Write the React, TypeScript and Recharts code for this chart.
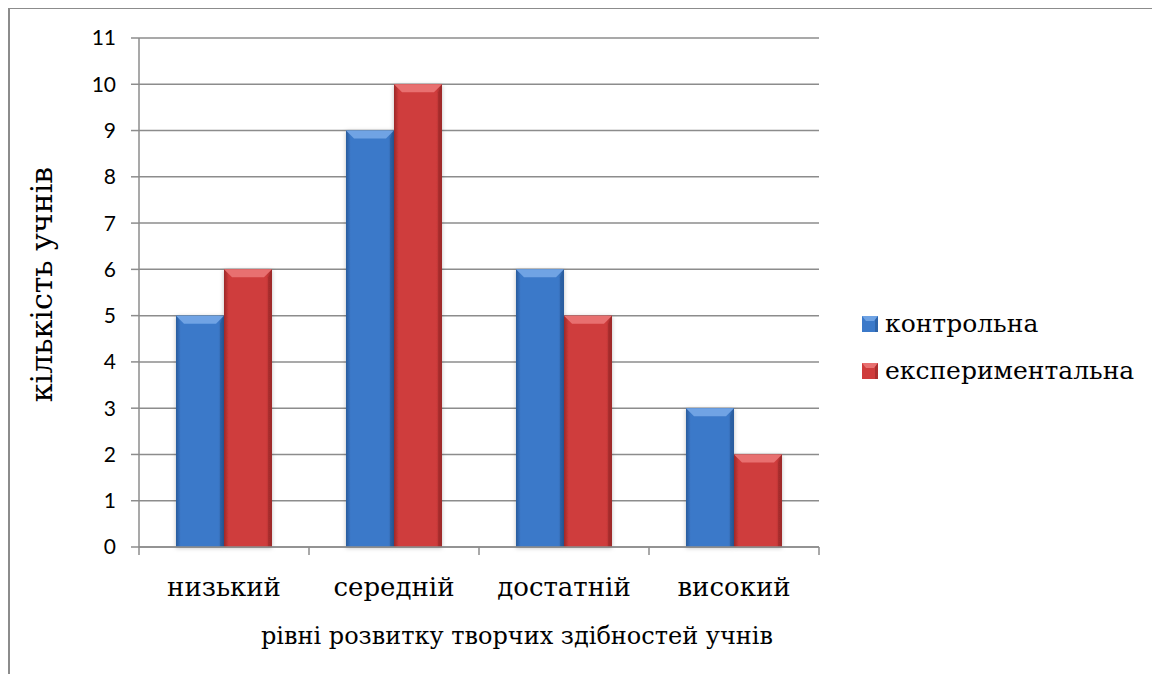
import { BarChart, Bar, XAxis, YAxis, CartesianGrid, Legend } from 'recharts';

const categories = ['низький', 'середній', 'достатній', 'високий'];
const controlValues = [5, 9, 6, 3];
const experimentalValues = [6, 10, 5, 2];
const yTicks = [0, 1, 2, 3, 4, 5, 6, 7, 8, 9, 10, 11];

const seriesNames = ['контрольна', 'експериментальна'];
const xTitle = 'рівні розвитку творчих здібностей учнів';
const yTitle = 'кількість учнів';

const chartData = categories.map((level, i) => ({
  level,
  control: controlValues[i],
  experimental: experimentalValues[i],
}));

const palette = {
  control: { base: '#3b79c9', light: '#6fa3e4', dark: '#2a5b9c' },
  experimental: { base: '#cf3c3c', light: '#e87070', dark: '#9c2929' },
};

const serif = 'DejaVu Serif';

function BevelBar(props: any) {
  const { x, y, width, height, colors, id } = props;
  if (!height || height <= 0) return null;
  const b = Math.min(8, height / 2);
  return (
    <g filter="url(#barShadow)">
      <rect x={x} y={y} width={width} height={height} fill={`url(#grad-${id})`} />
      <polygon
        points={`${x},${y} ${x + width},${y} ${x + width - b},${y + b} ${x + b},${y + b}`}
        fill={colors.light}
      />
      <polygon
        points={`${x + width},${y} ${x + width - b * 0.5},${y + b} ${x + width - b * 0.5},${y + height} ${x + width},${y + height}`}
        fill={colors.dark}
        opacity={0.6}
      />
    </g>
  );
}

function CategoryTick(props: any) {
  const { x, y, payload, width, visibleTicksCount } = props;
  const band = width / visibleTicksCount;
  const half = band / 2;
  return (
    <g>
      <line x1={x - half} y1={y} x2={x - half} y2={y + 8} stroke="#8c8c8c" strokeWidth={1.5} />
      {payload.index === visibleTicksCount - 1 && (
        <line x1={x + half} y1={y} x2={x + half} y2={y + 8} stroke="#8c8c8c" strokeWidth={1.5} />
      )}
      <text x={x} y={y + 49} textAnchor="middle" style={{ fontFamily: serif, fontSize: 26 }} fill="#000">
        {payload.value}
      </text>
    </g>
  );
}

function YTitle(props: any) {
  const { viewBox } = props;
  const cx = 31;
  const cy = viewBox.y + viewBox.height / 2 - 8;
  return (
    <text
      x={cx}
      y={cy}
      transform={`rotate(-90 ${cx} ${cy})`}
      textAnchor="middle"
      dominantBaseline="central"
      style={{ fontFamily: serif, fontSize: 30 }}
      fill="#000"
    >
      {yTitle}
    </text>
  );
}

function LegendSwatch({ colors }: any) {
  return (
    <svg width={16} height={16} style={{ display: 'block' }}>
      <rect x={0} y={0} width={16} height={16} fill={colors.base} />
      <polygon points="0,0 16,0 12,5 4,5" fill={colors.light} />
      <polygon points="16,0 16,16 13,16 13,4" fill={colors.dark} opacity={0.7} />
    </svg>
  );
}

function LegendContent() {
  const items = [
    { name: seriesNames[0], colors: palette.control },
    { name: seriesNames[1], colors: palette.experimental },
  ];
  return (
    <div>
      {items.map((it) => (
        <div key={it.name} style={{ display: 'flex', alignItems: 'center', height: 47 }}>
          <LegendSwatch colors={it.colors} />
          <span style={{ fontFamily: serif, fontSize: 25, marginLeft: 7, color: '#000', whiteSpace: 'nowrap' }}>
            {it.name}
          </span>
        </div>
      ))}
    </div>
  );
}

export default function App() {
  return (
    <div
      style={{
        width: 1150,
        height: 680,
        borderTop: '1px solid #8c8c8c',
        borderLeft: '2px solid #8c8c8c',
        borderRight: '1px solid #8c8c8c',
        background: '#fff',
        position: 'relative',
      }}
    >
      <BarChart
        width={1150}
        height={660}
        data={chartData}
        margin={{ top: 29, right: 341, bottom: 22, left: 0 }}
        barCategoryGap={37}
        barGap={0}
      >
        <defs>
          <filter id="barShadow" x="-20%" y="-5%" width="140%" height="110%">
            <feDropShadow dx={0} dy={1} stdDeviation={2} floodColor="#000" floodOpacity={0.25} />
          </filter>
          {(['control', 'experimental'] as const).map((k) => (
            <linearGradient key={k} id={`grad-${k}`} x1="0" y1="0" x2="1" y2="0">
              <stop offset="0%" stopColor={palette[k].dark} />
              <stop offset="10%" stopColor={palette[k].base} />
              <stop offset="88%" stopColor={palette[k].base} />
              <stop offset="100%" stopColor={palette[k].dark} />
            </linearGradient>
          ))}
        </defs>
        <CartesianGrid vertical={false} stroke="#8c8c8c" strokeWidth={1.5} />
        <XAxis
          dataKey="level"
          height={100}
          tickSize={0}
          tickMargin={0}
          tickLine={false}
          stroke="#8c8c8c"
          strokeWidth={1.5}
          tick={<CategoryTick />}
          interval={0}
          label={{
            value: xTitle,
            position: 'insideBottom',
            offset: 3,
            dx: 38,
            style: { fontFamily: serif, fontSize: 24, fill: '#000' },
          }}
        />
        <YAxis
          width={129}
          domain={[0, 11]}
          ticks={yTicks}
          interval={0}
          tickSize={8}
          tickMargin={15}
          stroke="#8c8c8c"
          strokeWidth={1.5}
          tick={{ fontFamily: 'Lato, "Open Sans", sans-serif', fontSize: 21, fill: '#000' }}
          label={<YTitle />}
        />
        <Legend
          layout="horizontal"
          verticalAlign="middle"
          align="center"
          content={<LegendContent />}
          wrapperStyle={{ left: 852, top: 291, width: 300 }}
        />
        <Bar
          dataKey="control"
          name={seriesNames[0]}
          fill={palette.control.base}
          isAnimationActive={false}
          shape={(p: any) => <BevelBar {...p} colors={palette.control} id="control" />}
        />
        <Bar
          dataKey="experimental"
          name={seriesNames[1]}
          fill={palette.experimental.base}
          isAnimationActive={false}
          shape={(p: any) => <BevelBar {...p} colors={palette.experimental} id="experimental" />}
        />
      </BarChart>
    </div>
  );
}
